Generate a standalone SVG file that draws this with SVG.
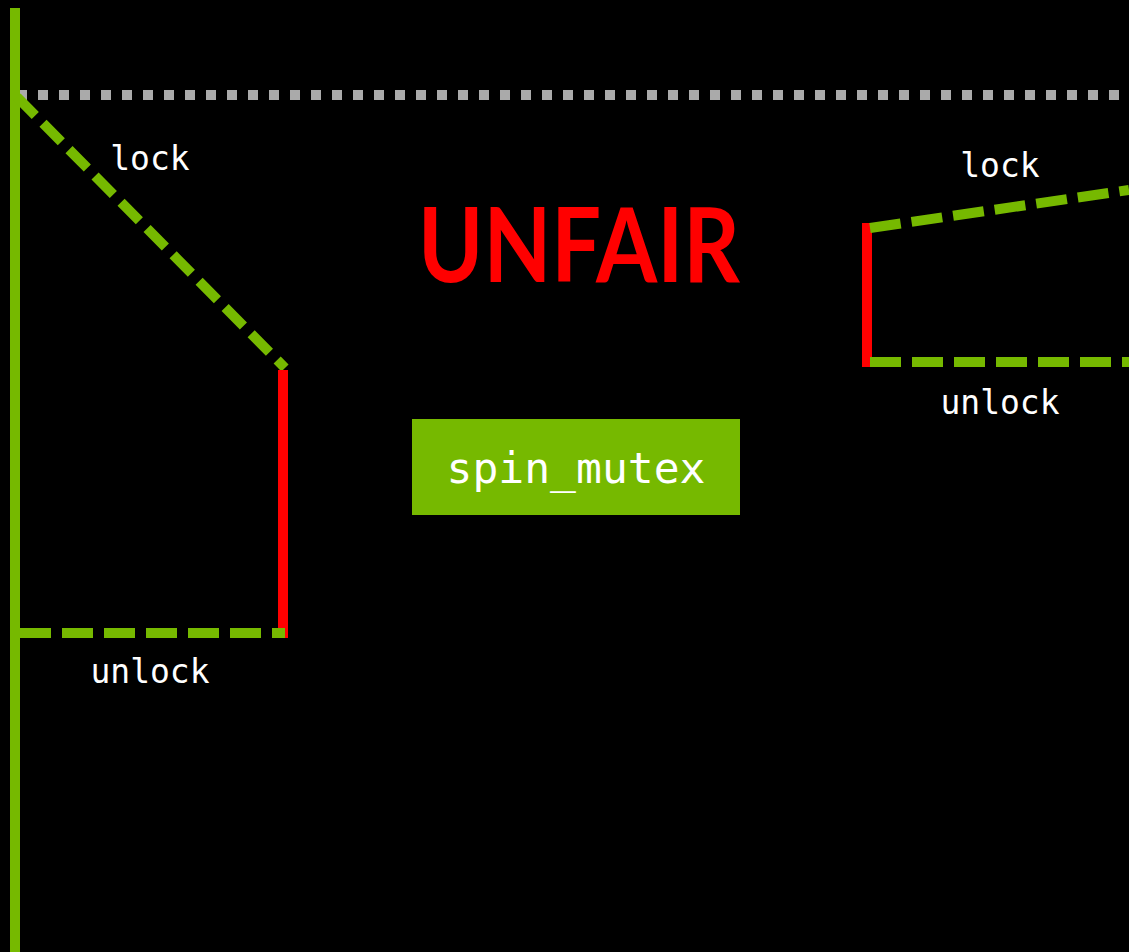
<svg xmlns="http://www.w3.org/2000/svg" width="1129" height="952" viewBox="0 0 1129 952">
<style>
.g{stroke:#76b900;stroke-width:10;fill:none}
.gd{stroke:#76b900;stroke-width:10;fill:none;stroke-dasharray:31 11}
.r{stroke:#ff0000;stroke-width:10;fill:none}
.lbl{font-family:"DejaVu Sans Mono",monospace;font-size:33px;fill:#ffffff;text-anchor:middle}
</style>
<rect width="1129" height="952" fill="#000"/>
<g id="connectors">
<line x1="17" y1="95" x2="1129" y2="95" stroke="#aaaaaa" stroke-width="10" stroke-dasharray="10 11"/>
<line class="g" x1="15" y1="8" x2="15" y2="952"/>
<line class="gd" x1="17" y1="97" x2="285" y2="368" style="stroke-dasharray:26 11"/>
<line class="r" x1="283" y1="370" x2="283" y2="638"/>
<line class="gd" x1="20" y1="633" x2="285" y2="633"/>
<line class="r" x1="867" y1="223" x2="867" y2="367"/>
<line class="gd" x1="870" y1="228" x2="1129" y2="190"/>
<line class="gd" x1="870" y1="362" x2="1129" y2="362"/>
</g>
<g id="labels">
<text class="lbl" x="150" y="170">lock</text>
<text class="lbl" x="150" y="683">unlock</text>
<text class="lbl" x="1000" y="177">lock</text>
<text class="lbl" x="1000" y="414">unlock</text>
</g>
<g id="title">
<text x="418" y="282" font-family="Lato, sans-serif" font-weight="bold" font-size="103" fill="#ff0000" textLength="322" lengthAdjust="spacingAndGlyphs">UNFAIR</text>
</g>
<g id="spin_mutex">
<rect x="412" y="419" width="328" height="96" fill="#76b900"/>
<text x="576" y="483" font-family="'DejaVu Sans Mono', monospace" font-size="43" fill="#ffffff" text-anchor="middle">spin_mutex</text>
</g>
</svg>
